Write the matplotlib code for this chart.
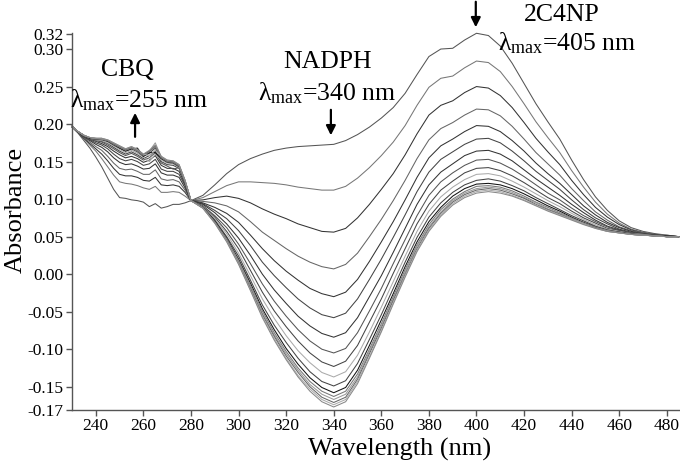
import matplotlib
matplotlib.use('Agg')
import matplotlib.pyplot as plt

plt.rcParams['font.family'] = ['Liberation Serif', 'DejaVu Serif']
plt.rcParams['mathtext.fontset'] = 'custom'
plt.rcParams['mathtext.rm'] = 'Liberation Serif'
plt.rcParams['mathtext.it'] = 'Liberation Serif:italic'

# -- wavelength grid (nm): 2.5 nm steps in the CBQ region, 5 nm afterwards
wl_uv = [230, 232.5, 235, 237.5, 240, 242.5, 245, 247.5, 250, 252.5,
         255, 257.5, 260, 262.5, 265, 267.5, 270, 272.5, 275, 277.5]
wl_vis = list(range(280, 490, 5))
wl = wl_uv + wl_vis

# -- absorbance of each successive scan (first scan = highest at 340/405 nm)
scan01 = [0.196, 0.188, 0.178, 0.168, 0.156, 0.143, 0.128, 0.113, 0.102, 0.101,
          0.099, 0.098, 0.096, 0.090, 0.094, 0.088, 0.090, 0.093, 0.093, 0.095,
          0.098, 0.105, 0.119, 0.134, 0.146, 0.154, 0.160, 0.165, 0.168, 0.170,
          0.171, 0.172, 0.173, 0.178, 0.186, 0.196, 0.208, 0.222, 0.241, 0.266,
          0.290, 0.300, 0.301, 0.312, 0.321, 0.318, 0.304, 0.281, 0.254, 0.227,
          0.203, 0.180, 0.152, 0.126, 0.103, 0.085, 0.071, 0.062, 0.057, 0.054,
          0.052, 0.050]
scan02 = [0.196, 0.189, 0.180, 0.172, 0.164, 0.154, 0.143, 0.132, 0.123, 0.121,
          0.120, 0.118, 0.115, 0.113, 0.117, 0.109, 0.109, 0.110, 0.109, 0.104,
          0.098, 0.102, 0.110, 0.118, 0.123, 0.123, 0.122, 0.121, 0.119, 0.116,
          0.114, 0.112, 0.112, 0.117, 0.128, 0.142, 0.158, 0.176, 0.198, 0.225,
          0.249, 0.261, 0.264, 0.275, 0.284, 0.282, 0.270, 0.250, 0.227, 0.203,
          0.182, 0.162, 0.138, 0.116, 0.096, 0.080, 0.068, 0.060, 0.056, 0.053,
          0.052, 0.050]
scan03 = [0.196, 0.189, 0.181, 0.174, 0.167, 0.160, 0.151, 0.141, 0.133, 0.131,
          0.131, 0.129, 0.125, 0.124, 0.129, 0.119, 0.118, 0.119, 0.117, 0.109,
          0.098, 0.099, 0.102, 0.104, 0.101, 0.095, 0.087, 0.080, 0.074, 0.067,
          0.062, 0.057, 0.056, 0.061, 0.075, 0.093, 0.113, 0.134, 0.159, 0.187,
          0.212, 0.225, 0.231, 0.242, 0.250, 0.248, 0.238, 0.222, 0.202, 0.181,
          0.163, 0.146, 0.125, 0.106, 0.089, 0.076, 0.066, 0.059, 0.055, 0.053,
          0.051, 0.050]
scan04 = [0.197, 0.189, 0.182, 0.176, 0.170, 0.165, 0.157, 0.148, 0.141, 0.139,
          0.140, 0.137, 0.133, 0.133, 0.139, 0.127, 0.125, 0.126, 0.123, 0.112,
          0.098, 0.097, 0.095, 0.091, 0.083, 0.070, 0.056, 0.045, 0.034, 0.024,
          0.016, 0.010, 0.007, 0.013, 0.028, 0.050, 0.073, 0.098, 0.125, 0.154,
          0.179, 0.194, 0.202, 0.212, 0.220, 0.219, 0.211, 0.197, 0.180, 0.162,
          0.147, 0.132, 0.114, 0.098, 0.083, 0.072, 0.063, 0.058, 0.055, 0.053,
          0.051, 0.050]
scan05 = [0.197, 0.189, 0.183, 0.178, 0.173, 0.169, 0.163, 0.155, 0.149, 0.146,
          0.147, 0.144, 0.140, 0.141, 0.147, 0.135, 0.132, 0.132, 0.129, 0.115,
          0.098, 0.095, 0.089, 0.081, 0.069, 0.052, 0.034, 0.018, 0.004, -0.008,
          -0.019, -0.026, -0.030, -0.024, -0.007, 0.017, 0.043, 0.070, 0.099, 0.129,
          0.155, 0.171, 0.180, 0.190, 0.198, 0.197, 0.190, 0.178, 0.164, 0.148,
          0.134, 0.121, 0.106, 0.091, 0.079, 0.069, 0.062, 0.057, 0.054, 0.052,
          0.051, 0.050]
scan06 = [0.197, 0.190, 0.183, 0.179, 0.175, 0.172, 0.167, 0.160, 0.154, 0.151,
          0.153, 0.150, 0.145, 0.147, 0.153, 0.140, 0.137, 0.137, 0.133, 0.118,
          0.098, 0.094, 0.085, 0.074, 0.058, 0.038, 0.016, -0.002, -0.018, -0.033,
          -0.045, -0.054, -0.058, -0.052, -0.033, -0.007, 0.020, 0.049, 0.079, 0.110,
          0.136, 0.153, 0.163, 0.173, 0.180, 0.181, 0.175, 0.164, 0.151, 0.137,
          0.125, 0.113, 0.099, 0.086, 0.075, 0.067, 0.060, 0.056, 0.054, 0.052,
          0.051, 0.050]
scan07 = [0.197, 0.190, 0.184, 0.180, 0.177, 0.174, 0.170, 0.164, 0.159, 0.155,
          0.157, 0.154, 0.149, 0.152, 0.158, 0.145, 0.141, 0.141, 0.137, 0.120,
          0.098, 0.093, 0.082, 0.067, 0.048, 0.025, 0.000, -0.021, -0.039, -0.056,
          -0.069, -0.079, -0.084, -0.078, -0.058, -0.030, -0.002, 0.029, 0.061, 0.093,
          0.119, 0.136, 0.147, 0.158, 0.164, 0.165, 0.160, 0.151, 0.139, 0.127,
          0.116, 0.105, 0.093, 0.082, 0.072, 0.064, 0.059, 0.055, 0.053, 0.052,
          0.051, 0.050]
scan08 = [0.197, 0.190, 0.184, 0.180, 0.178, 0.176, 0.172, 0.167, 0.162, 0.158,
          0.161, 0.157, 0.152, 0.155, 0.162, 0.148, 0.144, 0.140, 0.142, 0.121,
          0.098, 0.091, 0.078, 0.062, 0.040, 0.014, -0.013, -0.036, -0.056, -0.074,
          -0.089, -0.100, -0.105, -0.099, -0.078, -0.049, -0.019, 0.014, 0.046, 0.078,
          0.105, 0.123, 0.135, 0.145, 0.152, 0.153, 0.148, 0.140, 0.130, 0.119,
          0.108, 0.099, 0.088, 0.078, 0.070, 0.063, 0.058, 0.055, 0.053, 0.052,
          0.050, 0.050]
scan09 = [0.197, 0.190, 0.184, 0.181, 0.179, 0.177, 0.174, 0.169, 0.164, 0.160,
          0.163, 0.159, 0.154, 0.158, 0.164, 0.150, 0.146, 0.145, 0.141, 0.122,
          0.098, 0.091, 0.076, 0.057, 0.034, 0.005, -0.024, -0.049, -0.070, -0.089,
          -0.105, -0.117, -0.123, -0.116, -0.095, -0.064, -0.033, 0.001, 0.034, 0.067,
          0.093, 0.112, 0.124, 0.135, 0.141, 0.142, 0.138, 0.131, 0.122, 0.112,
          0.102, 0.094, 0.084, 0.075, 0.068, 0.061, 0.058, 0.054, 0.053, 0.051,
          0.050, 0.050]
scan10 = [0.197, 0.190, 0.185, 0.181, 0.179, 0.178, 0.175, 0.171, 0.166, 0.162,
          0.165, 0.161, 0.156, 0.150, 0.160, 0.152, 0.148, 0.147, 0.142, 0.123,
          0.098, 0.090, 0.074, 0.054, 0.028, -0.002, -0.033, -0.059, -0.082, -0.102,
          -0.118, -0.131, -0.137, -0.130, -0.108, -0.077, -0.044, -0.010, 0.024, 0.057,
          0.084, 0.103, 0.116, 0.126, 0.133, 0.134, 0.131, 0.124, 0.116, 0.107,
          0.098, 0.090, 0.081, 0.073, 0.066, 0.060, 0.057, 0.054, 0.053, 0.051,
          0.050, 0.050]
scan11 = [0.197, 0.190, 0.185, 0.181, 0.180, 0.179, 0.177, 0.172, 0.168, 0.164,
          0.167, 0.163, 0.157, 0.161, 0.168, 0.154, 0.149, 0.148, 0.143, 0.124,
          0.098, 0.089, 0.072, 0.050, 0.024, -0.008, -0.041, -0.068, -0.091, -0.112,
          -0.130, -0.143, -0.149, -0.142, -0.119, -0.087, -0.054, -0.019, 0.016, 0.049,
          0.076, 0.095, 0.109, 0.119, 0.125, 0.127, 0.124, 0.118, 0.111, 0.102,
          0.094, 0.086, 0.078, 0.071, 0.064, 0.059, 0.056, 0.054, 0.052, 0.051,
          0.050, 0.050]
scan12 = [0.197, 0.190, 0.185, 0.181, 0.180, 0.180, 0.177, 0.173, 0.168, 0.164,
          0.167, 0.168, 0.157, 0.162, 0.162, 0.154, 0.150, 0.149, 0.144, 0.124,
          0.098, 0.089, 0.071, 0.048, 0.020, -0.012, -0.046, -0.074, -0.099, -0.120,
          -0.138, -0.151, -0.158, -0.151, -0.128, -0.095, -0.061, -0.026, 0.010, 0.043,
          0.070, 0.089, 0.104, 0.114, 0.120, 0.121, 0.119, 0.114, 0.107, 0.099,
          0.091, 0.084, 0.076, 0.069, 0.063, 0.058, 0.056, 0.053, 0.052, 0.051,
          0.050, 0.050]
scan13 = [0.197, 0.190, 0.185, 0.182, 0.180, 0.180, 0.178, 0.173, 0.169, 0.165,
          0.168, 0.164, 0.158, 0.163, 0.170, 0.155, 0.150, 0.149, 0.144, 0.124,
          0.098, 0.089, 0.070, 0.047, 0.018, -0.015, -0.049, -0.078, -0.103, -0.125,
          -0.143, -0.156, -0.163, -0.156, -0.133, -0.100, -0.066, -0.030, 0.006, 0.039,
          0.066, 0.086, 0.100, 0.110, 0.117, 0.118, 0.116, 0.111, 0.104, 0.096,
          0.089, 0.082, 0.075, 0.068, 0.063, 0.058, 0.056, 0.053, 0.052, 0.051,
          0.050, 0.050]
scan14 = [0.197, 0.190, 0.185, 0.182, 0.181, 0.180, 0.178, 0.174, 0.170, 0.166,
          0.169, 0.165, 0.159, 0.164, 0.175, 0.156, 0.151, 0.150, 0.145, 0.124,
          0.098, 0.088, 0.069, 0.046, 0.017, -0.017, -0.052, -0.081, -0.106, -0.128,
          -0.147, -0.160, -0.167, -0.160, -0.137, -0.103, -0.069, -0.033, 0.003, 0.037,
          0.063, 0.083, 0.098, 0.108, 0.114, 0.116, 0.114, 0.109, 0.102, 0.095,
          0.087, 0.081, 0.074, 0.068, 0.062, 0.058, 0.055, 0.053, 0.052, 0.051,
          0.050, 0.050]
scan15 = [0.197, 0.190, 0.185, 0.182, 0.181, 0.181, 0.178, 0.174, 0.170, 0.166,
          0.169, 0.165, 0.159, 0.164, 0.171, 0.156, 0.151, 0.150, 0.145, 0.125,
          0.098, 0.088, 0.069, 0.045, 0.015, -0.019, -0.054, -0.083, -0.109, -0.131,
          -0.150, -0.164, -0.171, -0.164, -0.140, -0.106, -0.072, -0.035, 0.000, 0.034,
          0.061, 0.081, 0.096, 0.106, 0.112, 0.114, 0.112, 0.107, 0.101, 0.093,
          0.086, 0.080, 0.073, 0.067, 0.062, 0.057, 0.055, 0.053, 0.052, 0.051,
          0.050, 0.050]
scan16 = [0.197, 0.190, 0.185, 0.182, 0.181, 0.181, 0.179, 0.175, 0.171, 0.167,
          0.170, 0.166, 0.160, 0.158, 0.165, 0.157, 0.152, 0.151, 0.146, 0.125,
          0.098, 0.088, 0.068, 0.044, 0.014, -0.021, -0.056, -0.086, -0.112, -0.135,
          -0.153, -0.167, -0.174, -0.167, -0.143, -0.110, -0.075, -0.038, -0.002, 0.032,
          0.059, 0.079, 0.094, 0.104, 0.110, 0.112, 0.110, 0.105, 0.099, 0.092,
          0.085, 0.079, 0.073, 0.067, 0.061, 0.057, 0.055, 0.053, 0.052, 0.051,
          0.050, 0.050]
scan17 = [0.197, 0.190, 0.185, 0.182, 0.181, 0.181, 0.179, 0.175, 0.171, 0.167,
          0.170, 0.166, 0.160, 0.165, 0.172, 0.157, 0.152, 0.151, 0.146, 0.125,
          0.098, 0.088, 0.068, 0.043, 0.013, -0.022, -0.058, -0.088, -0.114, -0.137,
          -0.156, -0.170, -0.177, -0.170, -0.146, -0.112, -0.077, -0.040, -0.004, 0.030,
          0.057, 0.077, 0.092, 0.102, 0.108, 0.110, 0.108, 0.104, 0.098, 0.091,
          0.084, 0.078, 0.072, 0.066, 0.061, 0.057, 0.055, 0.053, 0.052, 0.051,
          0.050, 0.050]

scans = [scan01, scan02, scan03, scan04, scan05, scan06, scan07, scan08, scan09,
         scan10, scan11, scan12, scan13, scan14, scan15, scan16, scan17]
line_colors = ['#555555', '#777777', '#333333', '#666666', '#333333', '#444444',
               '#333333', '#555555', '#444444', '#aaaaaa', '#444444', '#111111',
               '#777777', '#999999', '#666666', '#aaaaaa', '#888888']

ytick_pos = [-0.181, -0.15, -0.10, -0.05, 0.00, 0.05, 0.10, 0.15, 0.20, 0.25, 0.30, 0.32]
ytick_lab = ['-0.17', '-0.15', '-0.10', '-0.05', '0.00', '0.05', '0.10', '0.15',
             '0.20', '0.25', '0.30', '0.32']
xtick_pos = [240, 260, 280, 300, 320, 340, 360, 380, 400, 420, 440, 460, 480]

# -- figure
fig = plt.figure(figsize=(6.8, 4.66), dpi=100)
ax = fig.add_axes([0.1059, 0.1202, 0.894, 0.810])

for s, c in zip(scans, line_colors):
    ax.plot(wl, s, color=c, lw=0.75, clip_on=False)

ax.set_xlim(230, 485.5)
ax.set_ylim(-0.181, 0.322)
ax.set_xticks(xtick_pos)
ax.set_yticks(ytick_pos)
ax.set_yticklabels(ytick_lab)

for side in ['top', 'right']:
    ax.spines[side].set_visible(False)
for side in ['left', 'bottom']:
    ax.spines[side].set_color('#555555')
    ax.spines[side].set_linewidth(1.0)
ax.tick_params(direction='out', length=4, width=1, color='#555555',
               labelsize=12.5, pad=2)

ax.set_xlabel('Wavelength (nm)', fontsize=19)
ax.set_ylabel('Absorbance', fontsize=19)
ax.xaxis.set_label_coords(0.539, -0.075)
ax.yaxis.set_label_coords(-0.074, 0.53)

# -- annotations
txt = dict(fontsize=18.5, ha='center', va='center')
ax.text(253.1, 0.272, 'CBQ', **txt)
ax.text(258.2, 0.232, 'λ$_{\\mathrm{max}}$=255 nm', **txt)
ax.text(337.6, 0.283, 'NADPH', **txt)
ax.text(337.4, 0.241, 'λ$_{\\mathrm{max}}$=340 nm', **txt)
ax.text(435.9, 0.345, '2C4NP', clip_on=False, **txt)
ax.text(438.2, 0.308, 'λ$_{\\mathrm{max}}$=405 nm', **txt)

arrow = dict(arrowstyle='-|>', color='black', lw=1.6, mutation_scale=14,
             shrinkA=0, shrinkB=0)
ax.annotate('', xy=(256.5, 0.215), xytext=(256.5, 0.183), arrowprops=arrow)
ax.annotate('', xy=(338.8, 0.185), xytext=(338.8, 0.219), arrowprops=arrow)
ax.annotate('', xy=(399.7, 0.329), xytext=(399.7, 0.363), arrowprops=arrow,
            annotation_clip=False)

fig.savefig('out.png', dpi=100)
